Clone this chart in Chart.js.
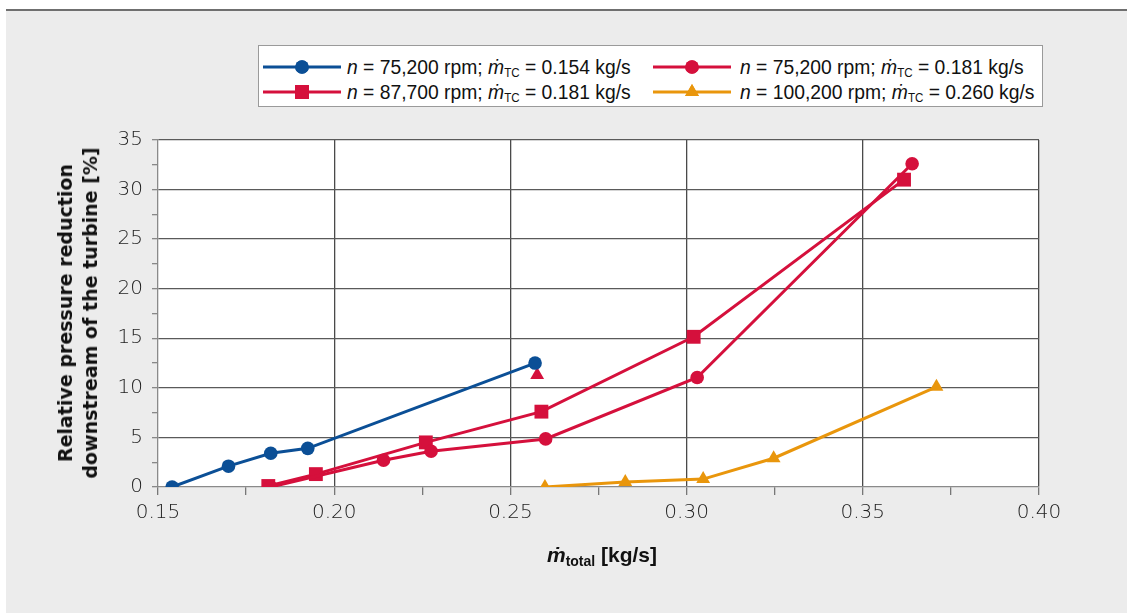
<!DOCTYPE html>
<html>
<head>
<meta charset="utf-8">
<script src="https://cdn.jsdelivr.net/npm/chart.js@4.4.1/dist/chart.umd.min.js"></script>
<style>
  html, body { margin: 0; padding: 0; background: #ffffff; }
  #wrap { position: relative; width: 1130px; height: 613px; overflow: hidden; background: #ffffff; }
  #bg { position: absolute; left: 6px; top: 9px; width: 1121px; height: 604px; background: #ececec; border-top: 2px solid #6f6f6f; box-sizing: border-box; }
  #c { position: absolute; left: 0; top: 0; }
  #legend { position: absolute; left: 258px; top: 45px; width: 785px; height: 62px; background: #fff; border: 1px solid #9a9a9a; box-sizing: border-box;
    font-family: "Liberation Sans", Arial, sans-serif; font-size: 20px; color: #111; }
  .item { position: absolute; height: 24px; line-height: 24px; white-space: nowrap; }
  .item canvas { position: absolute; left: 0; top: 0; }
  .item span.t { position: absolute; top: 0; transform-origin: 0 50%; transform: scaleX(0.965); }
  sub { font-size: 12px; vertical-align: -3px; line-height: 0; }
  #ytitle { position: absolute; left: 78px; top: 313px; transform: translate(-50%, -50%) rotate(-90deg); white-space: nowrap; text-align: center;
    font-family: "DejaVu Sans", sans-serif; font-weight: bold; font-size: 19px; line-height: 25px; color: #111; }
  #xtitle { position: absolute; left: 602px; top: 555px; transform: translate(-50%, -50%); white-space: nowrap;
    font-family: "Liberation Sans", sans-serif; font-weight: bold; font-size: 21px; color: #111; }
  #xtitle sub { font-size: 14px; vertical-align: -4px; }
</style>
</head>
<body>
<div id="wrap">
  <div id="bg"></div>
  <canvas id="c" width="1130" height="613"></canvas>
  <div id="legend"></div>
  <div id="ytitle">Relative pressure reduction<br>downstream of the turbine [%]</div>
  <div id="xtitle"><i>ṁ</i><sub>total</sub> [kg/s]</div>
</div>
<script>
// ---- Data ----
const seriesLabels = [
  ["75,200", "0.154"],
  ["75,200", "0.181"],
  ["87,700", "0.181"],
  ["100,200", "0.260"]
];
const blueX   = [0.154, 0.170, 0.182, 0.1925, 0.257];
const blueY   = [0, 2.1, 3.4, 3.9, 12.5];
const redCircX = [0.182, 0.214, 0.2275, 0.260, 0.303, 0.364];
const redCircY = [0, 2.7, 3.6, 4.85, 11.05, 32.6];
const redSqX  = [0.1813, 0.1948, 0.226, 0.2588, 0.302, 0.3617];
const redSqY  = [0.1, 1.3, 4.5, 7.6, 15.15, 31.0];
const orangeX = [0.2598, 0.2826, 0.3047, 0.3247, 0.3709];
const orangeY = [0, 0.5, 0.8, 2.9, 10.1];
const redTriX = [0.2576];
const redTriY = [11.3];
const xTickMin = 0.15, xTickMax = 0.40, xMajor = 0.05;
const yTickMin = 0, yTickMax = 35, yMajor = 5;

const BLUE = "#0b4f96", RED = "#d5103c", ORANGE = "#e9960c";

function pts(xs, ys) { return xs.map((x, i) => ({ x: x, y: ys[i] })); }

const datasets = [
  { label: "blue", data: pts(blueX, blueY), borderColor: BLUE, backgroundColor: BLUE, pointStyle: "circle", pointRadius: 6.8, borderWidth: 3, pointBorderWidth: 0 },
  { label: "redc", data: pts(redCircX, redCircY), borderColor: RED, backgroundColor: RED, pointStyle: "circle", pointRadius: 6.8, borderWidth: 3, pointBorderWidth: 0 },
  { label: "reds", data: pts(redSqX, redSqY), borderColor: RED, backgroundColor: RED, pointStyle: "rect", pointRadius: 9.8, borderWidth: 3, pointBorderWidth: 0 },
  { label: "orange", data: pts(orangeX, orangeY), borderColor: ORANGE, backgroundColor: ORANGE, pointStyle: "triangle", pointRadius: 8, borderWidth: 3, pointBorderWidth: 0 },
  { label: "redt", data: pts(redTriX, redTriY), borderColor: RED, backgroundColor: RED, pointStyle: "triangle", pointRadius: 8, borderWidth: 3, pointBorderWidth: 0, showLine: false }
];

const plotBg = {
  id: "plotBg",
  beforeDraw(chart) {
    const a = chart.chartArea, ctx = chart.ctx;
    ctx.save(); ctx.fillStyle = "#ffffff"; ctx.fillRect(a.left, a.top, a.right - a.left, a.bottom - a.top); ctx.restore();
  }
};

function isMajor(v, step) { const r = v / step; return Math.abs(r - Math.round(r)) < 1e-6; }

new Chart(document.getElementById("c"), {
  type: "scatter",
  data: { datasets: datasets.map(d => Object.assign({ showLine: d.showLine !== false, fill: false, tension: 0, clip: 0 }, d)) },
  options: {
    responsive: false, animation: false,
    layout: { padding: { left: 0, top: 140, right: 91, bottom: 0 } },
    plugins: { legend: { display: false }, tooltip: { enabled: false } },
    scales: {
      x: {
        type: "linear", min: xTickMin, max: xTickMax,
        afterFit(s) { s.height = 126; },
        ticks: { stepSize: 0.025, autoSkip: false, maxRotation: 0, padding: 6, color: "#222",
          font: { family: "DejaVu Sans", size: 20, weight: 300 },
          callback: (v) => isMajor(v, xMajor) ? v.toFixed(2) : "" },
        grid: { color: (c) => isMajor(c.tick.value, xMajor) && c.tick.value > xTickMin + 1e-6 ? "#4a4a4a" : "rgba(0,0,0,0)",
          tickColor: "#777", tickLength: 8, lineWidth: 1.3 },
        border: { color: "#8a8a8a", width: 1.3 }
      },
      y: {
        type: "linear", min: yTickMin, max: yTickMax,
        afterFit(s) { s.width = 158; },
        ticks: { stepSize: 2.5, autoSkip: false, padding: 9, color: "#222",
          font: { family: "DejaVu Sans", size: 20, weight: 300 },
          callback: (v) => isMajor(v, yMajor) ? String(v) : "" },
        grid: { color: (c) => isMajor(c.tick.value, yMajor) && c.tick.value > yTickMin ? "#5a5a5a" : "rgba(0,0,0,0)",
          tickColor: "#888", tickLength: 6, lineWidth: 1.3 },
        border: { color: "#8a8a8a", width: 1.3 }
      }
    }
  },
  plugins: [plotBg]
});

// ---- Legend ----
const legendPos = [
  { left: 4, top: 9, text: 84 }, { left: 394, top: 9, text: 87 },
  { left: 4, top: 34, text: 84 }, { left: 394, top: 34, text: 87 }
];
const legendText = [
  { ds: 0, lab: seriesLabels[0] }, { ds: 1, lab: seriesLabels[1] },
  { ds: 2, lab: seriesLabels[2] }, { ds: 3, lab: seriesLabels[3] }
];
const legend = document.getElementById("legend");
legendText.forEach((it, k) => {
  const d = datasets[it.ds];
  const div = document.createElement("div");
  div.className = "item";
  div.style.left = legendPos[k].left + "px";
  div.style.top = legendPos[k].top + "px";
  const cv = document.createElement("canvas");
  cv.width = 80; cv.height = 24;
  div.appendChild(cv);
  const ctx = cv.getContext("2d");
  ctx.strokeStyle = d.borderColor; ctx.lineWidth = 3;
  ctx.beginPath(); ctx.moveTo(0, 12); ctx.lineTo(78, 12); ctx.stroke();
  ctx.fillStyle = d.backgroundColor;
  Chart.helpers.drawPoint(ctx, { pointStyle: d.pointStyle, radius: d.pointRadius, borderWidth: 0 }, 39, 12);
  ctx.fill();
  const t = document.createElement("span");
  t.className = "t";
  t.style.left = legendPos[k].text + "px";
  t.innerHTML = "<i>n</i> = " + it.lab[0] + " rpm; <i>ṁ</i><sub>TC</sub> = " + it.lab[1] + " kg/s";
  div.appendChild(t);
  legend.appendChild(div);
});
</script>
</body>
</html>
